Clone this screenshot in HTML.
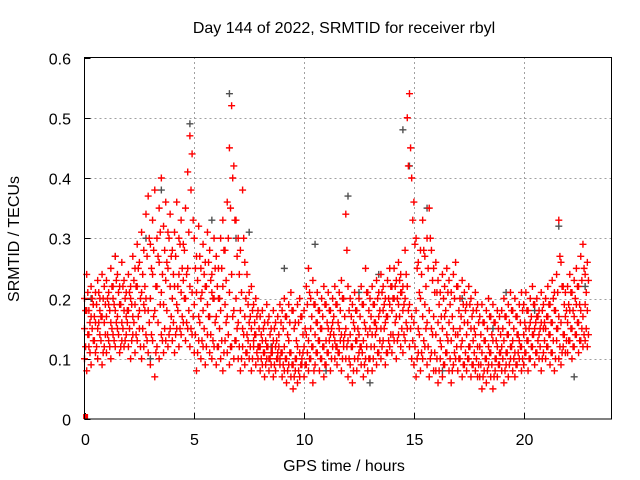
<!DOCTYPE html>
<html><head><meta charset="utf-8"><style>
html,body{margin:0;padding:0;background:#fff;}
svg{display:block;font-family:"Liberation Sans",sans-serif;}
</style></head><body>
<svg id="chart" width="640" height="480" viewBox="0 0 640 480" xmlns="http://www.w3.org/2000/svg">
<rect width="640" height="480" fill="#fff"/>
<g id="grid"></g>
<g id="ticks"></g>
<g id="marks"></g>
<rect x="84.5" y="57.5" width="527" height="361.5" fill="none" stroke="#000" stroke-width="1"/>
<text x="344" y="33" text-anchor="middle" font-size="16">Day 144 of 2022, SRMTID for receiver rbyl</text>
<text x="344" y="471" text-anchor="middle" font-size="16">GPS time / hours</text>
<text transform="translate(19,239) rotate(-90)" text-anchor="middle" font-size="16">SRMTID / TECUs</text>
</svg>
<script>
const xTicks=[0,5,10,15,20];
const yTicks=[0,0.1,0.2,0.3,0.4,0.5,0.6];
const yTickLabels=["0","0.1","0.2","0.3","0.4","0.5","0.6"];
const tStart=0, tStep=0.1, tStartB=0.05;
const lowVals=[.10,.08,.12,.09,.13,.11,.10,.14,.09,.12,.11,.13,.10,.14,.12,.15,.11,.13,.12,.14,.12,.10,.14,.11,.13,.15,.10,.12,.14,.11,.09,.13,.07,.12,.10,.14,.11,.13,.12,.15,.13,.11,.15,.12,.14,.16,.13,.15,.12,.14,.11,.08,.13,.10,.12,.09,.14,.11,.10,.12,.09,.12,.10,.08,.13,.11,.09,.12,.10,.13,.10,.08,.12,.09,.11,.10,.08,.12,.09,.10,.08,.09,.07,.10,.08,.09,.07,.08,.10,.09,.07,.08,.06,.09,.07,.05,.08,.06,.07,.09,.07,.09,.08,.10,.06,.09,.11,.08,.10,.07,.09,.11,.08,.12,.10,.09,.11,.08,.12,.10,.07,.09,.06,.10,.08,.11,.09,.07,.10,.08,.10,.08,.12,.09,.11,.10,.13,.09,.11,.12,.11,.13,.10,.14,.12,.11,.13,.15,.12,.10,.09,.07,.11,.08,.10,.12,.09,.07,.11,.08,.08,.06,.10,.07,.09,.11,.08,.06,.09,.10,.08,.10,.07,.09,.08,.10,.07,.09,.08,.07,.07,.05,.08,.06,.09,.07,.05,.08,.07,.09,.08,.06,.09,.07,.10,.08,.07,.09,.10,.08,.09,.11,.08,.10,.12,.09,.11,.10,.08,.11,.10,.12,.09,.11,.08,.13,.10,.09,.12,.11,.11,.13,.10,.12,.14,.11,.13,.12,.13,.12];
const midVals=[.15,.18,.14,.17,.19,.16,.15,.18,.17,.16,.17,.19,.16,.20,.18,.17,.19,.16,.18,.17,.18,.20,.17,.19,.22,.18,.21,.19,.20,.18,.20,.24,.18,.22,.26,.21,.19,.23,.25,.22,.20,.22,.19,.24,.21,.23,.20,.25,.22,.21,.19,.21,.17,.20,.18,.22,.19,.17,.21,.20,.17,.20,.18,.22,.19,.17,.21,.24,.18,.20,.16,.18,.15,.17,.14,.16,.15,.13,.14,.12,.12,.13,.11,.12,.10,.11,.13,.12,.11,.10,.11,.12,.10,.13,.11,.09,.10,.12,.11,.10,.12,.14,.13,.15,.12,.14,.16,.13,.15,.12,.13,.15,.14,.16,.13,.12,.15,.14,.13,.15,.13,.14,.12,.15,.13,.14,.12,.13,.15,.14,.15,.14,.16,.15,.17,.15,.18,.16,.17,.19,.18,.20,.17,.19,.21,.18,.20,.22,.19,.17,.16,.18,.15,.20,.17,.19,.16,.18,.15,.17,.14,.16,.13,.15,.17,.14,.16,.13,.15,.14,.14,.15,.13,.16,.14,.12,.15,.13,.14,.12,.12,.11,.13,.10,.12,.11,.13,.10,.12,.11,.12,.13,.11,.14,.12,.13,.11,.14,.13,.12,.14,.15,.13,.16,.14,.15,.17,.14,.16,.15,.15,.17,.14,.16,.18,.15,.17,.16,.14,.17,.16,.18,.15,.17,.19,.16,.18,.17,.19,.18];
const highVals=[.20,.24,.18,.22,.19,.21,.23,.20,.24,.22,.23,.21,.25,.22,.27,.24,.22,.26,.23,.21,.24,.22,.27,.25,.29,.26,.31,.28,.34,.37,.29,.33,.38,.30,.35,.40,.32,.36,.31,.34,.28,.31,.36,.30,.33,.29,.35,.41,.47,.44,.30,.27,.32,.25,.29,.26,.31,.28,.24,.30,.27,.25,.30,.33,.28,.36,.45,.52,.42,.33,.30,.28,.38,.26,.24,.21,.22,.19,.20,.18,.17,.18,.16,.19,.17,.15,.18,.16,.17,.19,.18,.20,.17,.19,.21,.18,.16,.19,.20,.17,.18,.22,.25,.20,.23,.19,.21,.18,.20,.22,.19,.21,.18,.20,.22,.19,.21,.23,.20,.34,.22,.20,.19,.21,.18,.20,.22,.19,.25,.21,.20,.22,.19,.23,.21,.24,.22,.20,.23,.25,.22,.25,.23,.26,.24,.22,.28,.50,.54,.40,.36,.30,.26,.28,.33,.27,.30,.35,.28,.25,.26,.23,.21,.24,.22,.25,.23,.21,.24,.26,.22,.20,.23,.21,.19,.22,.20,.18,.21,.19,.17,.19,.16,.18,.20,.17,.19,.16,.18,.17,.18,.20,.17,.19,.21,.18,.20,.17,.19,.21,.19,.21,.18,.20,.22,.19,.20,.18,.21,.19,.20,.22,.19,.23,.21,.24,.33,.26,.22,.21,.22,.24,.21,.23,.25,.22,.27,.29,.24,.26];
const lowerMidVals=[.12,.14,.11,.15,.13,.12,.16,.13,.11,.14,.14,.12,.15,.13,.16,.14,.12,.15,.13,.16,.15,.13,.16,.14,.17,.12,.15,.18,.13,.16,.14,.17,.11,.16,.19,.13,.15,.18,.14,.17,.16,.14,.18,.15,.17,.20,.16,.18,.15,.17,.14,.11,.16,.13,.15,.12,.17,.14,.13,.16,.12,.15,.13,.11,.16,.14,.12,.17,.13,.15,.12,.10,.14,.11,.13,.12,.10,.14,.11,.12,.10,.11,.09,.12,.10,.11,.09,.10,.12,.11,.09,.10,.08,.11,.09,.07,.10,.08,.09,.11,.09,.11,.10,.12,.08,.11,.13,.10,.12,.09,.11,.13,.10,.14,.12,.11,.13,.10,.14,.12,.10,.12,.08,.13,.10,.12,.11,.09,.12,.10,.12,.10,.14,.11,.13,.12,.15,.11,.13,.14,.14,.16,.13,.17,.15,.14,.16,.18,.15,.13,.12,.10,.14,.11,.13,.15,.12,.10,.14,.11,.10,.08,.12,.09,.11,.13,.10,.08,.11,.12,.10,.12,.09,.11,.10,.12,.09,.11,.10,.09,.09,.07,.10,.08,.11,.09,.07,.10,.09,.11,.10,.08,.11,.09,.12,.10,.09,.11,.12,.10,.11,.13,.10,.12,.14,.11,.13,.12,.10,.13,.12,.14,.11,.13,.10,.15,.12,.11,.14,.13,.13,.15,.12,.14,.16,.13,.15,.14,.15,.14];
const upperMidVals=[.18,.21,.16,.20,.17,.19,.21,.17,.20,.19,.20,.18,.22,.19,.23,.21,.19,.22,.20,.18,.21,.19,.23,.22,.25,.20,.24,.22,.27,.30,.25,.28,.22,.27,.31,.24,.28,.26,.30,.27,.24,.27,.22,.29,.25,.28,.24,.31,.38,.33,.25,.23,.27,.21,.24,.22,.26,.23,.20,.25,.22,.20,.25,.28,.23,.30,.35,.40,.33,.27,.24,.21,.30,.20,.19,.17,.18,.16,.17,.15,.14,.15,.13,.16,.14,.12,.15,.13,.14,.16,.15,.17,.14,.16,.18,.15,.13,.16,.17,.14,.15,.19,.21,.17,.19,.16,.18,.15,.17,.19,.16,.18,.15,.17,.19,.16,.18,.20,.17,.28,.18,.17,.16,.18,.15,.17,.19,.16,.21,.18,.17,.19,.16,.20,.18,.21,.19,.17,.20,.22,.20,.22,.20,.23,.21,.19,.24,.42,.45,.33,.29,.25,.21,.24,.28,.22,.25,.30,.23,.21,.21,.19,.17,.20,.18,.21,.19,.17,.20,.22,.18,.17,.19,.18,.16,.19,.17,.15,.18,.16,.14,.16,.13,.15,.17,.14,.16,.13,.15,.14,.15,.17,.14,.16,.18,.15,.17,.14,.16,.18,.16,.18,.15,.17,.19,.16,.17,.15,.18,.16,.17,.19,.16,.20,.18,.21,.27,.22,.19,.18,.19,.21,.18,.20,.22,.19,.23,.25,.21,.23];
const grayTimes=[0.3,1.4,2.8,3.5,4.8,5.8,6.6,6.9,7.5,9.1,10.5,12.0,12.5,13.4,14.5,14.8,15.6,16.3,17.2,18.6,19.2,20.5,21.6,22.3,22.8,3.0,8.5,11.0,13.0];
const grayVals=[.20,.27,.30,.38,.49,.33,.54,.30,.31,.25,.29,.37,.21,.24,.48,.42,.35,.08,.20,.15,.21,.18,.32,.07,.22,.10,.12,.08,.06];
const zeroTimes=[0.05];
const zeroVals=[0];

const X0=84.5,X1=611.5,Y0=419,Y1=57.5,TMAX=24,VMAX=0.6;
const xs=t=>X0+(t/TMAX)*(X1-X0);
const ys=v=>Y0-(v/VMAX)*(Y0-Y1);
const NS="http://www.w3.org/2000/svg";
const grid=document.getElementById('grid'),ticks=document.getElementById('ticks'),marks=document.getElementById('marks');
function mk(tag,attrs,parent){const e=document.createElementNS(NS,tag);for(const k in attrs)e.setAttribute(k,attrs[k]);parent.appendChild(e);return e;}
xTicks.forEach(t=>{
  const x=Math.round(xs(t))+0.5;
  if(t>0){const g=mk('line',{x1:x,x2:x,y1:Y0,y2:Y1,stroke:'#a0a0a0','stroke-dasharray':'2,3'},grid);
  
  }
  const tk=mk('line',{x1:x,x2:x,y1:Y0,y2:Y0-6,stroke:'#000'},ticks);
  
  
  const tx=mk('text',{x:x,y:445,'text-anchor':'middle','font-size':16},ticks);
  tx.textContent=String(t);
  
  
});
yTicks.forEach((v,i)=>{
  const y=Math.round(ys(v))+0.5;
  if(i>0&&i<yTicks.length-1){const g=mk('line',{x1:X0,x2:X1,y1:y,y2:y,stroke:'#a0a0a0','stroke-dasharray':'2,3'},grid);
  
  }
  const tk=mk('line',{x1:X0,x2:X0+6,y1:y,y2:y,stroke:'#000'},ticks);
  
  
  const tx=mk('text',{x:71,y:y+6,'text-anchor':'end','font-size':16},ticks);
  tx.textContent=yTickLabels[i];
  
  
});
function plus(t,v,color,name){
  const x=xs(t),y=ys(v);
  const p=mk('path',{d:`M${x-3.5},${y}H${x+3.5}M${x},${y-3.5}V${y+3.5}`,stroke:color,'stroke-width':1.4,fill:'none'},marks);
  
  
}
grayTimes.forEach((t,i)=>plus(t,grayVals[i],'#505050','gray-point'));
[lowVals,midVals,highVals].forEach(arr=>arr.forEach((v,i)=>plus(tStart+i*tStep,v,'#ff0000','red-point')));
[lowerMidVals,upperMidVals].forEach(arr=>arr.forEach((v,i)=>plus(tStartB+i*tStep,v,'#ff0000','red-point')));
zeroTimes.forEach((t,i)=>{
  const r=mk('rect',{x:xs(t)-2.5,y:ys(zeroVals[i])-5,width:5,height:5,fill:'#ff0000'},marks);
  
  
});
</script>
</body></html>
